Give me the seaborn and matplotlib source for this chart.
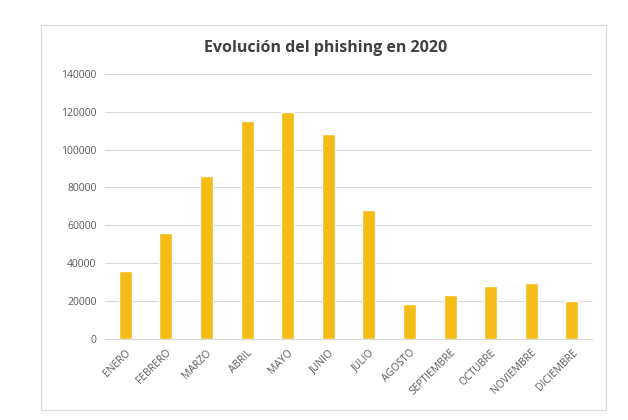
import matplotlib
matplotlib.use("Agg")
import matplotlib.pyplot as plt
import seaborn as sns
import pandas as pd
from matplotlib.patches import Rectangle

meses = ["ENERO", "FEBRERO", "MARZO", "ABRIL", "MAYO", "JUNIO", "JULIO",
         "AGOSTO", "SEPTIEMBRE", "OCTUBRE", "NOVIEMBRE", "DICIEMBRE"]
casos = [36000, 56000, 86000, 115000, 120000, 108000, 68000,
         18500, 23300, 28000, 29600, 20000]
yticks = [0, 20000, 40000, 60000, 80000, 100000, 120000, 140000]

sns.set_style("white")
plt.rcParams['font.family'] = ['Open Sans', 'DejaVu Sans']

df = pd.DataFrame({"mes": meses, "casos": casos})

fig = plt.figure(figsize=(6.28, 4.2), dpi=100)
ax = fig.add_axes([0.167, 0.193, 0.776, 0.631])

sns.barplot(data=df, x="mes", y="casos", color="#F5BC17", saturation=1,
            width=0.32, ax=ax, zorder=3)

ax.set_ylim(0, 140000)
ax.set_xlim(-0.5, 11.5)
ax.set_yticks(yticks)
ax.set_yticklabels([str(v) for v in yticks], fontsize=7.5, color="#595959")
ax.set_xticks(range(len(meses)))
ax.set_xticklabels(meses, rotation=45, ha="right", rotation_mode="anchor",
                   fontsize=7.5, color="#595959")
ax.tick_params(axis="both", length=0, pad=6)
ax.grid(axis="y", color="#D9D9D9", linewidth=0.8, zorder=0)
for s in ["top", "right", "left"]:
    ax.spines[s].set_visible(False)
ax.spines["bottom"].set_color("#D9D9D9")
ax.spines["bottom"].set_linewidth(0.8)
ax.set_xlabel("")
ax.set_ylabel("")

fig.text(0.519, 0.886, "Evolución del phishing en 2020", ha="center",
         va="center", fontsize=11.5, fontweight="bold", color="#404040")

fig.patches.append(Rectangle((41 / 628, 1 - 410 / 420), 565 / 628, 385 / 420,
                             transform=fig.transFigure, fill=False,
                             edgecolor="#D9D9D9", linewidth=0.9))

fig.savefig("out.png", dpi=100)
